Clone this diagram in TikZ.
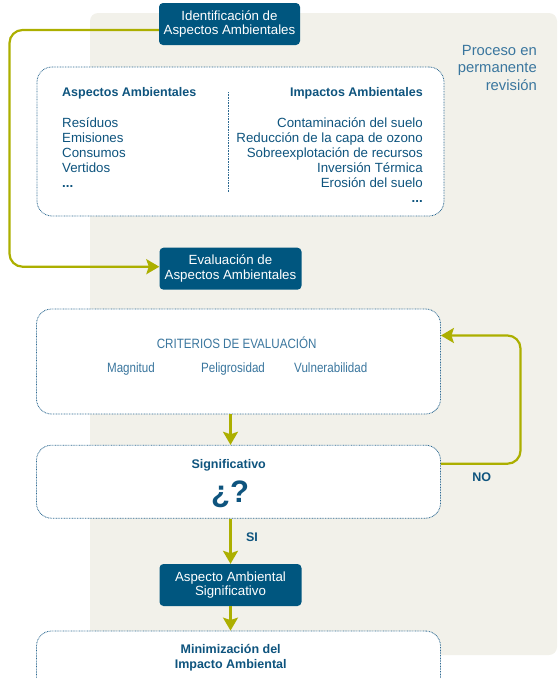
\documentclass[tikz,border=0pt]{standalone}
\usepackage{fontspec}
\setmainfont{Liberation Sans}
\newfontfamily\narrowfont[FakeStretch=0.86]{Liberation Sans}
\usetikzlibrary{arrows.meta}
\definecolor{boxblue}{RGB}{0,86,127}
\definecolor{textblue}{RGB}{14,84,126}
\definecolor{lightblue}{RGB}{58,118,158}
\definecolor{dotblue}{RGB}{45,105,145}
\definecolor{olive}{RGB}{172,175,0}
\definecolor{panel}{RGB}{242,241,234}

\begin{document}
\begin{tikzpicture}[x=1pt,y=-1pt,
	darkbox/.style={rectangle,rounded corners=4pt,fill=boxblue,text=white,align=center,minimum width=142pt,minimum height=42pt,inner sep=0pt,font=\fontsize{13.3}{14.6}\selectfont},
	dotbox/.style={rectangle,rounded corners=15pt,draw=dotblue,fill=white,line width=0.8pt,dash pattern=on 0.8pt off 0.8pt,minimum width=404pt,inner sep=0pt},
	flow/.style={draw=olive,line width=2.2pt,-{Stealth[length=13pt,width=15pt,inset=2.5pt]}},
	itemtext/.style={text=textblue,inner sep=0pt,font=\fontsize{13.3}{15}\selectfont},
	headtext/.style={itemtext,font=\bfseries\fontsize{12.5}{15}\selectfont},
	crittext/.style={text=lightblue,inner sep=0pt,font=\narrowfont\fontsize{13.5}{15}\selectfont}]

	\useasboundingbox (0,0) rectangle (558,678);
	\fill[panel,rounded corners=8pt] (90,13) rectangle (557,655);

	\node[itemtext,text=lightblue,align=right,anchor=base east,font=\fontsize{14.8}{17.5}\selectfont] (proceso) at (537,90) {Proceso en\\permanente\\revisión};

	\node[darkbox,minimum width=141pt] (ident) at (229.5,24) {Identificación de\\Aspectos Ambientales};

	\node[dotbox,minimum width=407pt,minimum height=149pt] (aspbox) at (240.5,141.5) {};
	\node[headtext,anchor=base west] (asphead) at (62,96) {Aspectos Ambientales};
	\node[headtext,anchor=base east] (imphead) at (423,96) {Impactos Ambientales};
	\node[itemtext,align=left,anchor=base west] (aspitems) at (62,187) {Resíduos\\Emisiones\\Consumos\\Vertidos\\\textbf{...}};
	\node[itemtext,align=right,anchor=base east] (impitems) at (423,202) {Contaminación del suelo\\Reducción de la capa de ozono\\Sobreexplotación de recursos\\Inversión Térmica\\Erosión del suelo\\\textbf{...}};
	\coordinate (divtop) at (228,92);
	\coordinate (divbot) at (228,192);
	\draw[dotblue,line width=0.8pt,dash pattern=on 0.8pt off 0.8pt] (divtop) -- (divbot);

	\node[darkbox] (evalbox) at (230.5,268.7) {Evaluación de\\Aspectos Ambientales};

	\node[dotbox,minimum height=105pt] (critbox) at (238.5,361.5) {};
	\node[crittext,anchor=base] (crithead) at (236.7,348.3) {CRITERIOS DE EVALUACIÓN};
	\node[crittext,anchor=base] (magnitud) at (131,372.7) {Magnitud};
	\node[crittext,anchor=base] (peligro) at (233,372.7) {Peligrosidad};
	\node[crittext,anchor=base] (vulner) at (330.8,372.7) {Vulnerabilidad};

	\node[dotbox,minimum height=73pt] (sigbox) at (238.5,481.7) {};
	\node[headtext,anchor=base] (sighead) at (228.7,468.3) {Significativo};
	\node[headtext,anchor=base,font=\bfseries\fontsize{31}{31}\selectfont] (question) at (230,502) {¿?};

	\node[darkbox] (aspsig) at (230.5,585) {Aspecto Ambiental\\Significativo};

	\node[dotbox,minimum height=80pt] (minbox) at (238.5,671) {};
	\node[headtext,align=center,anchor=base] (minhead) at (230.7,668.3) {Minimización del\\Impacto Ambiental};

	\coordinate (leftturn) at (9.5,150);
	\coordinate (noturn) at (520.5,400);
	\draw[flow,rounded corners=13pt] ([yshift=-6pt]ident.west) -| (leftturn) |- ([yshift=2pt]evalbox.west);
	\draw[flow] (critbox.south -| evalbox.center) -- (sigbox.north -| evalbox.center);
	\draw[flow,rounded corners=13pt] ([yshift=18pt]sigbox.east) -| (noturn) |- ([yshift=26pt]critbox.east);
	\draw[flow] (sigbox.south -| aspsig.center) -- (aspsig.north);
	\draw[flow] (aspsig.south) -- (minbox.north -| aspsig.center);

	\node[headtext,anchor=base] (nolabel) at (481.7,481.7) {NO};
	\node[headtext,anchor=base] (silabel) at (252,541) {SI};
\end{tikzpicture}
\end{document}
